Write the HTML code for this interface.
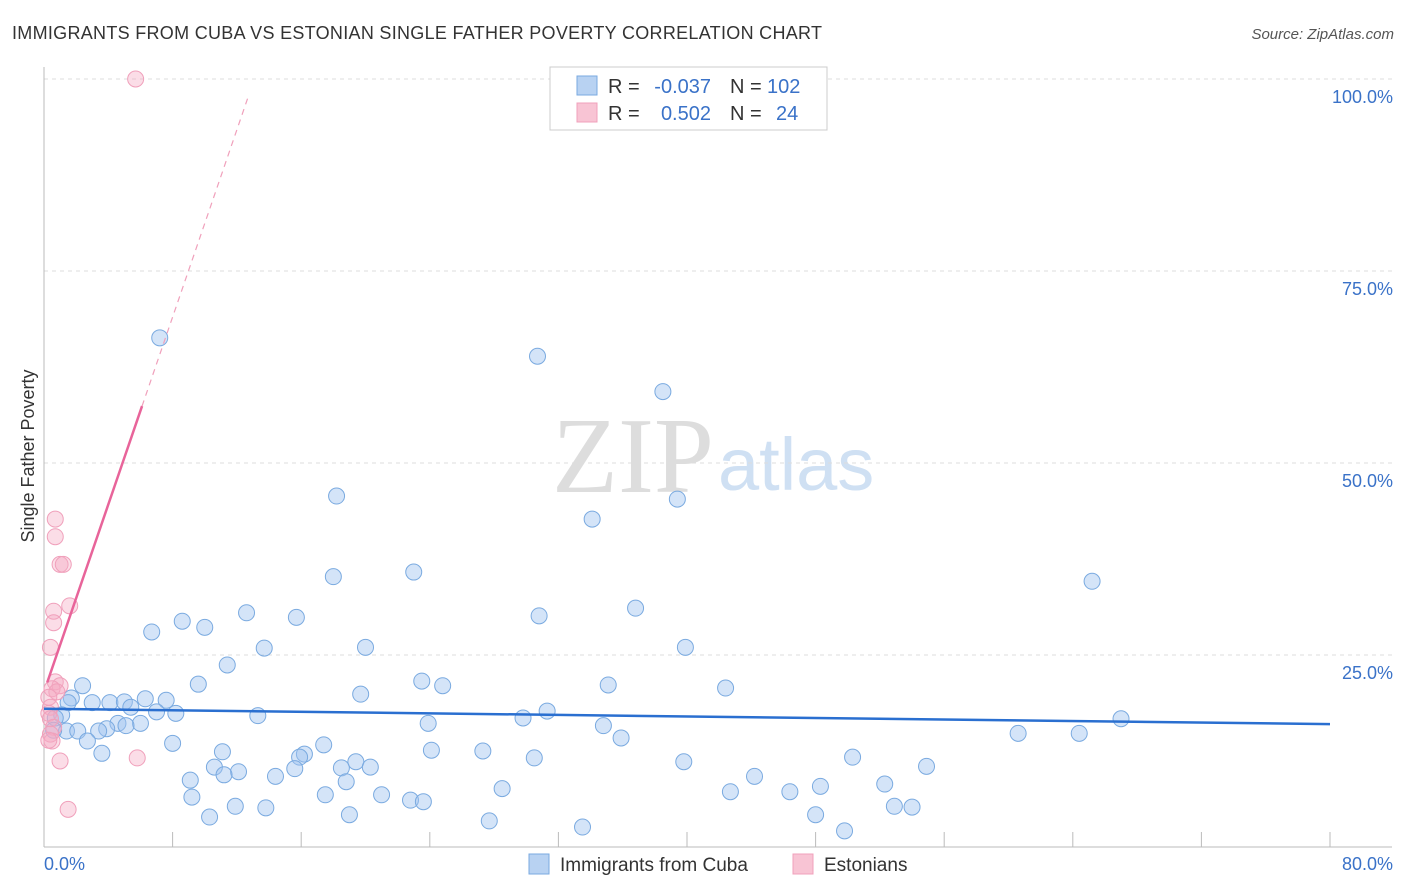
<!DOCTYPE html>
<html><head><meta charset="utf-8"><style>
body{margin:0;background:#fff;font-family:"Liberation Sans",sans-serif;}
svg{display:block}
</style></head><body>
<svg id="chart" width="1406" height="892">
<text x="12" y="39" font-size="18" fill="#333" textLength="810">IMMIGRANTS FROM CUBA VS ESTONIAN SINGLE FATHER POVERTY CORRELATION CHART</text>
<text x="1394" y="39" font-size="15" fill="#555" font-style="italic" text-anchor="end">Source: ZipAtlas.com</text>
<text x="34" y="456" font-size="18" fill="#333" text-anchor="middle" transform="rotate(-90 34 456)">Single Father Poverty</text>
<text x="714" y="492" font-size="108" fill="#ddd" text-anchor="end" font-family="Liberation Serif">ZIP</text>
<text x="718" y="490" font-size="74" fill="#cfe0f3">atlas</text>
<g id="grid"></g><g id="pts"></g><g id="lines"></g>
<g font-size="20">
<rect x="550" y="67" width="277" height="63" fill="#fff" stroke="#ccc"/>
<rect x="577" y="76" width="20" height="19" fill="#b8d2f2" stroke="#7aaae0"/>
<rect x="577" y="103" width="20" height="19" fill="#f8c4d4" stroke="#f0a0bb"/>
<text x="608" y="93" fill="#333">R =</text>
<text x="711" y="93" fill="#3a72c8" text-anchor="end">-0.037</text>
<text x="730" y="93" fill="#333">N =</text>
<text x="767" y="93" fill="#3a72c8">102</text>
<text x="608" y="120" fill="#333">R =</text>
<text x="711" y="120" fill="#3a72c8" text-anchor="end">0.502</text>
<text x="730" y="120" fill="#333">N =</text>
<text x="776" y="120" fill="#3a72c8">24</text>
</g>
<g>
<rect x="529" y="854" width="20" height="20" fill="#b8d2f2" stroke="#7aaae0"/>
<text x="560" y="871" font-size="19" fill="#333">Immigrants from Cuba</text>
<rect x="793" y="854" width="20" height="20" fill="#f8c4d4" stroke="#f0a0bb"/>
<text x="824" y="871" font-size="19" fill="#333">Estonians</text>
</g>
</svg>
<script>
const blueX=[7.2,30.7,38.5,18.2,39.4,34.1,65.2,18.0,23.0,36.8,30.8,12.6,15.7,8.6,10.0,6.7,20.0,13.7,39.9,11.4,23.5,24.8,35.1,42.4,2.4,9.6,19.7,1.7,1.5,3.0,4.1,5.0,6.3,7.6,5.4,7.0,8.2,13.3,29.8,31.3,67.0,23.9,34.8,1.1,0.7,4.6,6.0,5.1,3.9,3.4,1.4,2.1,0.6,2.7,35.9,60.6,64.4,8.0,17.4,3.6,11.1,24.1,27.3,16.2,15.9,30.5,50.3,10.6,19.4,18.5,20.3,12.1,14.4,15.6,11.2,9.1,39.8,44.2,54.9,52.3,18.8,48.3,28.5,17.5,21.0,22.8,23.6,9.2,42.7,46.4,11.9,13.8,52.9,54.0,10.3,19.0,27.7,48.0,33.5,49.8];
const blueY=[66.3,63.9,59.3,45.7,45.3,42.7,34.6,35.2,35.8,31.1,30.1,30.5,29.9,29.4,28.6,28.0,26.0,25.9,26.0,23.7,21.6,21.0,21.1,20.7,21.0,21.2,19.9,19.4,18.8,18.8,18.8,18.9,19.3,19.1,18.2,17.6,17.4,17.1,16.8,17.7,16.7,16.1,15.8,17.2,16.8,16.1,16.1,15.8,15.4,15.1,15.1,15.1,15.2,13.8,14.2,14.8,14.8,13.5,13.3,12.2,12.4,12.6,12.5,12.1,11.7,11.6,11.7,10.4,11.1,10.3,10.4,9.8,9.2,10.2,9.4,8.7,11.1,9.2,10.5,8.2,8.5,7.9,7.6,6.8,6.8,6.1,5.9,6.5,7.2,7.2,5.3,5.1,5.3,5.2,3.9,4.2,3.4,4.2,2.6,2.1];
const pinkX=[5.7,0.7,0.7,1.0,1.2,1.6,0.6,0.6,0.4,0.7,1.0,0.5,0.8,0.3,0.4,0.3,0.4,0.6,0.4,0.5,0.3,1.0,5.8,1.5];
const pinkY=[100,42.7,40.4,36.8,36.8,31.4,30.7,29.2,26.0,21.5,21.0,20.6,20.2,19.5,18.2,17.4,16.7,15.6,14.7,13.8,13.9,11.2,11.6,4.9];
const yTicks=[25,50,75,100];
const yTickLabels=["25.0%","50.0%","75.0%","100.0%"];
const blueTrend=[18.0,-0.025];
const pinkTrend=[20.2,6.1];
const NS="http://www.w3.org/2000/svg";
const sx=v=>44+v*16.075, sy=v=>847-v*7.68;
function mk(p,t,a){const e=document.createElementNS(NS,t);for(const k in a)e.setAttribute(k,a[k]);p.appendChild(e);return e;}
const grid=document.getElementById('grid');
yTicks.forEach((t,i)=>{
 const l=mk(grid,'line',{x1:44,x2:1392,y1:sy(t),y2:sy(t),stroke:'#ddd','stroke-dasharray':'4,4'});
 
 
 const tx=mk(grid,'text',{x:1393,y:sy(t)+24,'font-size':18,fill:'#3a72c8','text-anchor':'end'});
 tx.textContent=yTickLabels[i];
 
 
});
mk(grid,'line',{x1:44,x2:44,y1:67,y2:847,stroke:'#bbb'});
mk(grid,'line',{x1:44,x2:1392,y1:847,y2:847,stroke:'#bbb'});
for(let i=1;i<=10;i++){const tk=mk(grid,'line',{x1:sx(i*8),x2:sx(i*8),y1:832,y2:847,stroke:'#bbb'});
 
 }
const xl=mk(grid,'text',{x:44,y:870,'font-size':18,fill:'#3a72c8'});xl.textContent='0.0%';


const xr=mk(grid,'text',{x:1393,y:870,'font-size':18,fill:'#3a72c8','text-anchor':'end'});xr.textContent='80.0%';


const pts=document.getElementById('pts');
blueX.forEach((x,i)=>{const c=mk(pts,'circle',{cx:sx(x),cy:sy(blueY[i]),r:8,fill:'rgba(160,195,240,0.45)',stroke:'#7aaae0','stroke-width':1});
 
 });
pinkX.forEach((x,i)=>{const c=mk(pts,'circle',{cx:sx(x),cy:sy(pinkY[i]),r:8,fill:'rgba(245,170,195,0.4)',stroke:'#f0a0bb','stroke-width':1});
 
 });
const lines=document.getElementById('lines');
const bl=mk(lines,'line',{x1:sx(0),y1:sy(blueTrend[0]),x2:sx(80),y2:sy(blueTrend[0]+blueTrend[1]*80),stroke:'#2a6fd0','stroke-width':2.5});


const pl=mk(lines,'line',{x1:sx(0.2),y1:sy(pinkTrend[0]+pinkTrend[1]*0.2),x2:sx(6.1),y2:sy(pinkTrend[0]+pinkTrend[1]*6.1),stroke:'#e8649a','stroke-width':2.5});


const pd=mk(lines,'line',{x1:sx(6.1),y1:sy(pinkTrend[0]+pinkTrend[1]*6.1),x2:sx(12.7),y2:sy(pinkTrend[0]+pinkTrend[1]*12.7),stroke:'#f0a0bb','stroke-width':1.2,'stroke-dasharray':'6,5'});


</script>
</body></html>
